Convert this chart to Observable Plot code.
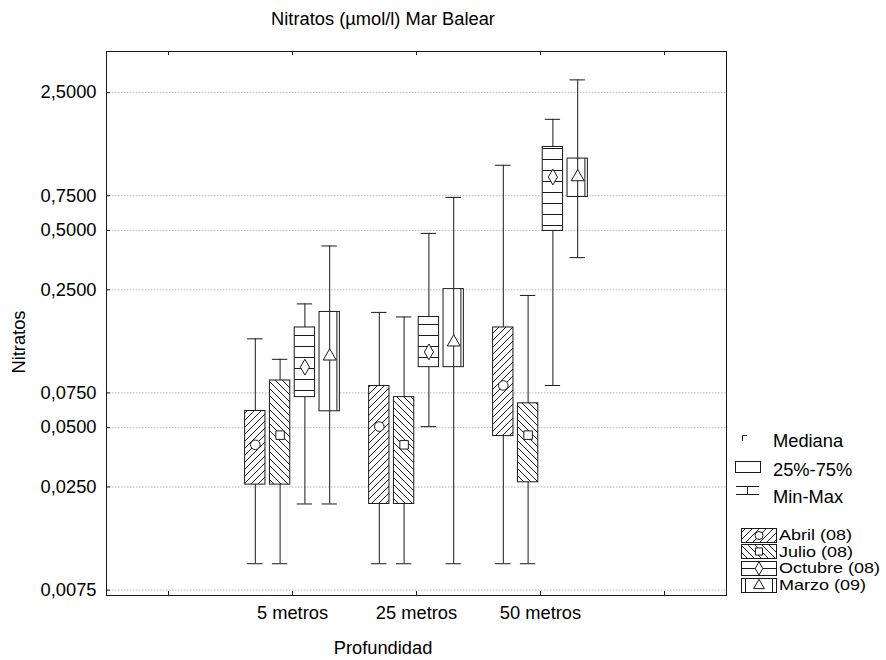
<!DOCTYPE html>
<html><head><meta charset="utf-8">
<script src="https://cdn.jsdelivr.net/npm/d3@7"></script>
<script src="https://cdn.jsdelivr.net/npm/@observablehq/plot@0.6"></script>
<style>body{margin:0;background:#fff} svg{display:block}</style>
</head><body><div id="chart"></div>
<script>
const depths = ["5 metros", "25 metros", "50 metros"];
const seriesNames = ["Abril (08)", "Julio (08)", "Octubre (08)", "Marzo (09)"];
const xTickLabels = ["", "5 metros", "25 metros", "50 metros", ""];
const yTicks = [0.0075, 0.025, 0.05, 0.075, 0.25, 0.5, 0.75, 2.5];
const statLabels = ["Mediana", "25%-75%", "Min-Max"];
const titleText = "Nitratos (µmol/l) Mar Balear";
const xLabel = "Profundidad";
const yLabel = "Nitratos";

// rows: series (Abril, Julio, Octubre, Marzo); columns: depths (5, 25, 50 m)
const minVals = [
  [0.0102, 0.0102, 0.0102],
  [0.0102, 0.0102, 0.0102],
  [0.0205, 0.0506, 0.0818],
  [0.0205, 0.0102, 0.364]
];
const q1Vals = [
  [0.0257, 0.0205, 0.0453],
  [0.0257, 0.0205, 0.0264],
  [0.0714, 0.1013, 0.497],
  [0.0605, 0.1013, 0.739]
];
const medVals = [
  [0.0409, 0.0506, 0.0818],
  [0.0458, 0.0409, 0.0458],
  [0.1013, 0.121, 0.933],
  [0.115, 0.1355, 0.933]
];
const q3Vals = [
  [0.0607, 0.0813, 0.161],
  [0.0867, 0.0714, 0.0664],
  [0.161, 0.182, 1.325],
  [0.193, 0.252, 1.157]
];
const maxVals = [
  [0.141, 0.192, 1.07],
  [0.111, 0.182, 0.234],
  [0.212, 0.483, 1.83],
  [0.417, 0.735, 2.90]
];

const data = [];
seriesNames.forEach((s, si) => depths.forEach((d, di) => data.push({
  series: s, si, depth: d,
  x: di + 2 + (si - 1.5) * 0.2,
  min: minVals[si][di], q1: q1Vals[si][di], med: medVals[si][di],
  q3: q3Vals[si][di], max: maxVals[si][di]
})));

const FONT = "'Liberation Sans', Arial, sans-serif";
const FS = 18.3;
const hw = 0.082, cw = 0.062;
const fills = ["url(#hatchfwd)", "url(#hatchback)", "url(#hatchhoriz)", "white"];
const fmt = v => v.toFixed(4).replace(".", ",");
const ink = "#1a1a1a";
const xTickVals = [1, 2, 3, 4, 5];
const yLo = 0.00704, yHi = 4.04, tickK = Math.pow(10, 4 / 197.2);

const chart = Plot.plot({
  width: 886, height: 660,
  marginLeft: 106, marginRight: 160, marginTop: 51, marginBottom: 65,
  style: {fontFamily: FONT, fontSize: FS + "px", color: "black", background: "white"},
  x: {type: "linear", domain: [0.5, 5.5], axis: null},
  y: {type: "log", domain: [yLo, yHi], axis: null},
  symbol: {domain: seriesNames, range: ["circle", "square", "diamond", "triangle"]},
  marks: [
    Plot.ruleY(yTicks, {y: d => d, stroke: "#b8b8b8", strokeDasharray: "1.5,1.5"}),
    Plot.ruleX(data, {x: "x", y1: "min", y2: "q1", stroke: ink}),
    Plot.ruleX(data, {x: "x", y1: "q3", y2: "max", stroke: ink}),
    Plot.ruleY(data, {y: "min", x1: d => d.x - cw, x2: d => d.x + cw, stroke: ink}),
    Plot.ruleY(data, {y: "max", x1: d => d.x - cw, x2: d => d.x + cw, stroke: ink}),
    ...seriesNames.map((s, i) => Plot.rect(data.filter(d => d.si === i), {
      x1: d => d.x - hw, x2: d => d.x + hw, y1: "q1", y2: "q3",
      fill: fills[i], stroke: ink
    })),
    Plot.ruleX(data.filter(d => d.si === 3), {x: "x", y1: "q1", y2: "q3", stroke: ink}),
    Plot.ruleX(data.filter(d => d.si === 3), {x: d => d.x + 0.058, y1: "q1", y2: "q3", stroke: ink}),
    Plot.dot(data, {x: "x", y: "med", symbol: "series", r: 4.8, fill: "white", stroke: ink, strokeWidth: 1}),
    Plot.frame({stroke: ink}),
    // y axis: inner ticks + labels
    Plot.ruleY(yTicks, {y: d => d, x1: 0.5, x2: 0.5 + 4 / 124, stroke: ink}),
    Plot.text(yTicks, {y: d => d, frameAnchor: "left", textAnchor: "end", dx: -10, text: fmt}),
    // x axis: inner ticks at bottom and top + labels
    Plot.ruleX(xTickVals, {x: d => d, y1: yLo, y2: yLo * tickK, stroke: ink}),
    Plot.ruleX(xTickVals, {x: d => d, y1: yHi / tickK, y2: yHi, stroke: ink}),
    Plot.text(xTickVals, {x: d => d, frameAnchor: "bottom", lineAnchor: "top", dy: 10, text: d => xTickLabels[d - 1]})
  ]
});
document.getElementById("chart").appendChild(chart);

const svg = d3.select(chart);
const defs = svg.insert("defs", ":first-child");
function pattern(id, w, h, d) {
  const p = defs.append("pattern").attr("id", id).attr("patternUnits", "userSpaceOnUse")
    .attr("width", w).attr("height", h);
  p.append("rect").attr("width", w).attr("height", h).attr("fill", "white");
  p.append("path").attr("d", d).attr("stroke", ink).attr("stroke-width", 1).attr("fill", "none");
}
pattern("hatchfwd", 7, 7, "M0,7L7,0M-1,1L1,-1M6,8L8,6");
pattern("hatchback", 7, 7, "M0,0L7,7M-1,6L1,8M6,-1L8,1");
pattern("hatchhoriz", 10, 11, "M0,5.5H10");

// titles
const tg = svg.append("g").attr("font-family", FONT).attr("font-size", FS).attr("fill", "black").attr("text-anchor", "middle");
tg.append("text").attr("x", 383).attr("y", 19).attr("dy", "0.35em").text(titleText);
tg.append("text").attr("x", 383).attr("y", 648).attr("dy", "0.35em").text(xLabel);
tg.append("text").attr("transform", "translate(19,342) rotate(-90)").attr("dy", "0.35em").text(yLabel);

// legend
const lg = svg.append("g").attr("font-family", FONT).attr("font-size", FS).attr("fill", "black").attr("text-anchor", "start");
const ln = (d) => lg.append("path").attr("d", d).attr("stroke", ink).attr("fill", "none");
ln("M742.5,441V435.5H747");
lg.append("rect").attr("x", 735.5).attr("y", 461.5).attr("width", 25).attr("height", 11).attr("fill", "white").attr("stroke", ink);
ln("M736,486.5H759M747.5,486.5V494.5M736,494.5H759");
statLabels.forEach((t, i) => lg.append("text").attr("x", 773).attr("y", [441, 470, 497][i]).attr("dy", "0.35em").text(t));

const legendFills = ["url(#hatchfwd)", "url(#hatchback)", "white", "white"];
const LFS = 14.4;
seriesNames.forEach((s, i) => {
  const cy = 535 + i * 16.7;
  const top = Math.round(cy - 7.5) + 0.5;
  lg.append("rect").attr("x", 741.5).attr("y", top).attr("width", 35).attr("height", 14)
    .attr("fill", legendFills[i]).attr("stroke", ink);
  const mid = top + 7;
  if (i === 2) ln(`M741.5,${mid}H776.5`);
  if (i === 3) ln(`M745.5,${top}V${top + 14}M772.5,${top}V${top + 14}`);
  const sym = [d3.symbolCircle, d3.symbolSquare, d3.symbolDiamond, d3.symbolTriangle][i];
  lg.append("path").attr("d", d3.symbol(sym, Math.PI * 4 * 4)())
    .attr("transform", `translate(759,${mid})`).attr("fill", "white").attr("stroke", ink);
  lg.append("text").attr("transform", `translate(779,${cy}) scale(1.25,1)`)
    .attr("font-size", LFS).attr("dy", "0.35em").text(s);
});
</script>
</body></html>
